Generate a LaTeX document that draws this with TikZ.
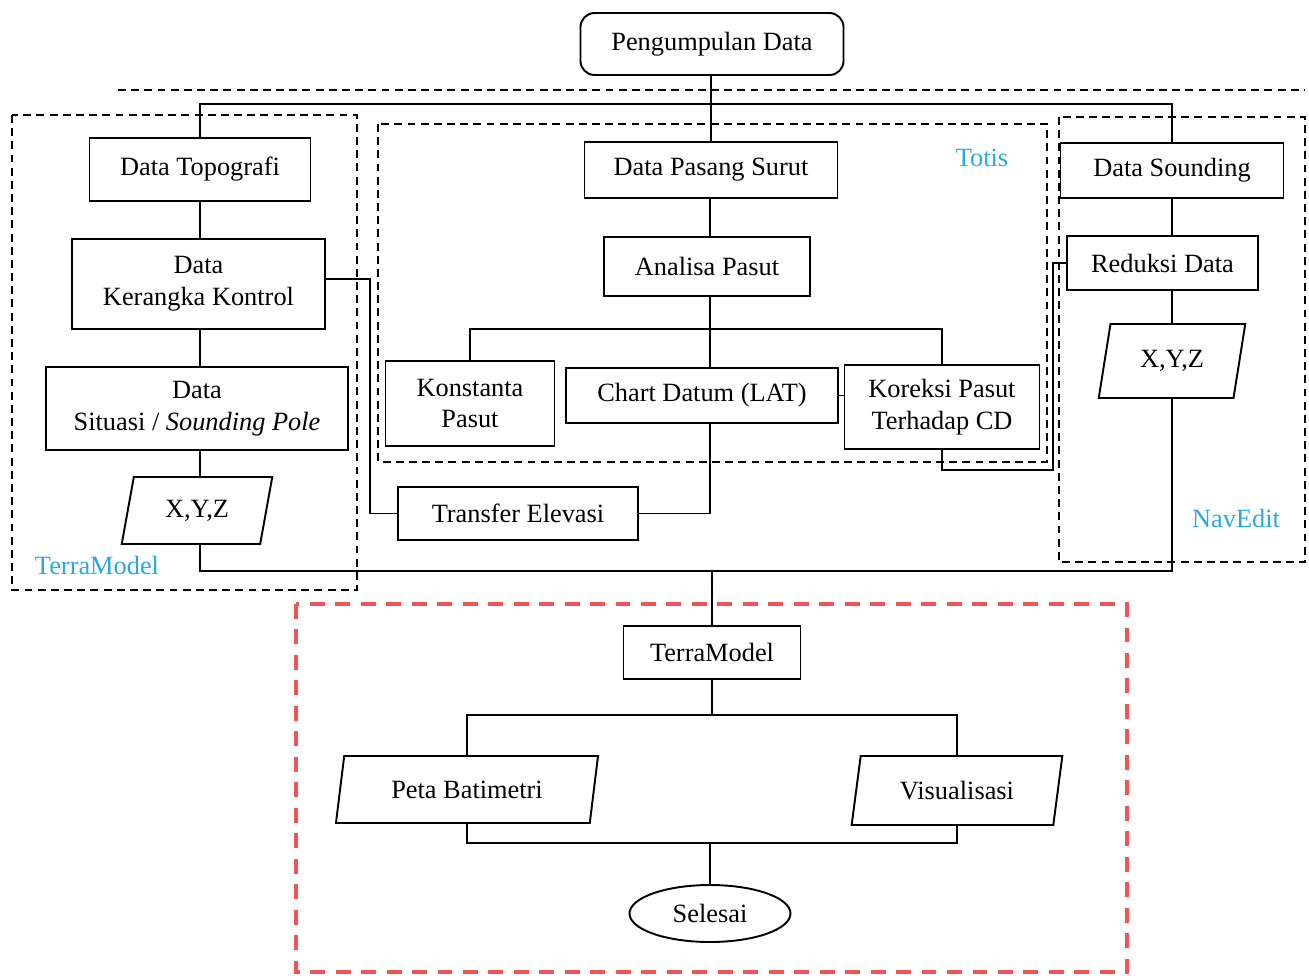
\documentclass[tikz,border=0pt]{standalone}
\usepackage{fontspec}
\setmainfont{Liberation Serif}
\usetikzlibrary{shapes.geometric}
\definecolor{labelblue}{RGB}{41,168,226}
\definecolor{framered}{RGB}{240,84,84}
\tikzset{
  px/.style 2 args={minimum width=#1*0.02cm, minimum height=#2*0.02cm},
  procbox/.style={draw, line width=1.1pt, inner sep=0pt, align=center,
    font=\fontsize{15}{18}\selectfont},
  iobox/.style={procbox, trapezium, trapezium stretches=true,
    trapezium left angle=74, trapezium right angle=106},
  link/.style={line width=1.1pt},
  groupframe/.style={line width=1.2pt, dash pattern=on 4.5pt off 3pt},
  outframe/.style={line width=1.8pt, framered, dash pattern=on 8.5pt off 6pt},
  grouplabel/.style={text=labelblue, font=\fontsize{15}{18}\selectfont}
}
\begin{document}
\begin{tikzpicture}[x=0.02cm, y=-0.02cm]
\useasboundingbox (0,0) rectangle (1309,975);

% group frames
\draw[groupframe] (118,90) -- (1305,90);
\draw[groupframe] (12,115) rectangle (357,590);
\draw[groupframe] (378,124) rectangle (1047,462);
\draw[groupframe] (1059,117) rectangle (1305,562);
\draw[outframe] (296,604) rectangle (1127,972);

\node[grouplabel] (lblterra) at (97,565) {TerraModel};
\node[grouplabel] (lbltotis) at (982,158) {Totis};
\node[grouplabel] (lblnav) at (1236,518) {NavEdit};

% start
\node[procbox, rounded corners=8pt, px={263}{62}] (pd) at (712,44) {Pengumpulan Data};

% topography column
\node[procbox, px={221}{63}] (topo) at (200,169.5) {Data Topografi};
\node[procbox, px={253}{90}] (kk) at (198.5,284) {Data\\Kerangka Kontrol};
\node[procbox, px={302}{83}] (sit) at (197,408.5) {Data\\Situasi / \textit{Sounding Pole}};
\node[iobox, px={151}{67}] (xyz1) at (197,510.5) {X,Y,Z};

% tide column
\node[procbox, px={253}{56}] (dps) at (711,170) {Data Pasang Surut};
\node[procbox, px={206}{59}] (ap) at (707,266.5) {Analisa Pasut};
\node[procbox, px={169}{85}] (kp) at (470,403.5) {Konstanta\\Pasut};
\node[procbox, px={272}{55}] (cd) at (702,395.5) {Chart Datum (LAT)};
\node[procbox, px={195}{84}] (kor) at (942,407) {Koreksi Pasut\\Terhadap CD};
\node[procbox, px={240}{53}] (te) at (518,513.5) {Transfer Elevasi};

% sounding column
\node[procbox, px={223}{55}] (ds) at (1172,170.5) {Data Sounding};
\node[procbox, px={191}{54}] (rd) at (1162.5,263) {Reduksi Data};
\node[iobox, px={147}{74}] (xyz2) at (1172,361) {X,Y,Z};

% processing
\node[procbox, px={177}{53}] (tm) at (712,652.5) {TerraModel};
\node[iobox, px={264}{67}] (pb) at (467,789.5) {Peta Batimetri};
\node[iobox, px={212}{69}] (vis) at (957,790.5) {Visualisasi};
\node[procbox, ellipse, px={161}{57}] (sel) at (710,913.5) {Selesai};

% helper points
\coordinate (bus) at (711,104);
\coordinate (mid) at (710,0);
\coordinate (bus2) at (712,571);

% connectors
\draw[link] (pd.south -| dps.north) -- (dps.north);
\draw[link] (topo.north) -- (topo.north |- bus) -- (ds.north |- bus) -- (ds.north);

\draw[link] (topo.south) -- (topo.south |- kk.north);
\draw[link] (kk.south -| topo.south) -- (sit.north -| topo.south);
\draw[link] (sit.south -| topo.south) -- (xyz1.north -| topo.south);

\draw[link] (kk.east |- 0,279) -- (370,279) |- (te.west);
\draw[link] (cd.south -| mid) |- (te.east);

\draw[link] (dps.south -| mid) -- (ap.north -| mid);
\draw[link] (ap.south -| mid) -- (cd.north -| mid);
\draw[link] (kp.north) |- (mid |- 0,329) -| (kor.north);
\draw[link] (cd.east) -- (kor.west |- cd.east);
\draw[link] (kor.south) |- (1053,470) |- (rd.west);

\draw[link] (ds.south) -- (ds.south |- rd.north);
\draw[link] (rd.south -| ds.south) -- (xyz2.north -| ds.south);

\draw[link] (xyz1.south -| topo.south) |- (xyz2.south |- bus2) -- (xyz2.south);
\draw[link] (bus2) -- (tm.north);

\draw[link] (tm.south) -- (tm.south |- 0,715);
\draw[link] (pb.north) |- (vis.north |- 0,715) -- (vis.north);
\draw[link] (pb.south) |- (vis.south |- 0,843) -- (vis.south);
\draw[link] (sel.north |- 0,843) -- (sel.north);
\end{tikzpicture}
\end{document}
